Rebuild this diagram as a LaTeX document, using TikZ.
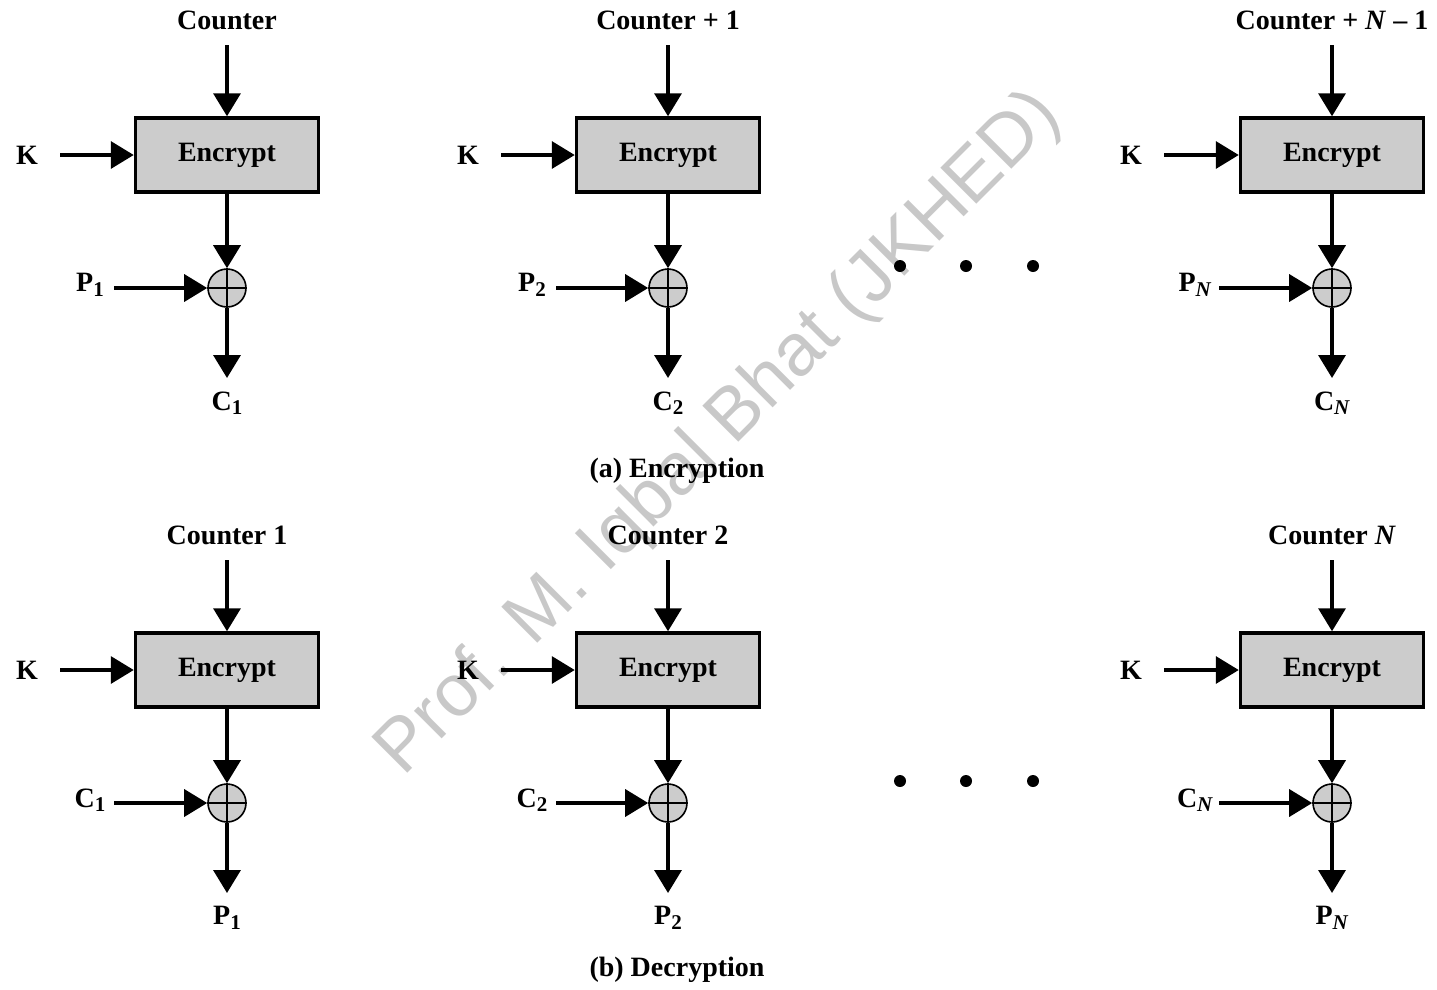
\documentclass[tikz,border=0pt]{standalone}
\usepackage{fontspec}
\setmainfont{Liberation Serif}
\newfontfamily\wmfont{Liberation Sans}
\usetikzlibrary{arrows.meta}
\definecolor{boxgray}{RGB}{204,204,204}
\definecolor{wmgray}{RGB}{200,200,200}
\newcommand\lsub[1]{\raisebox{-0.35ex}{\fontsize{21}{21}\selectfont #1}}
\tikzset{
  lbl/.style={font=\fontsize{28}{30}\selectfont\bfseries, inner sep=0pt},
  enc/.style={draw, line width=3.5pt, fill=boxgray, minimum width=183pt, minimum height=74pt,
              font=\fontsize{28}{30}\selectfont\bfseries, inner sep=0pt},
  xor/.style={circle, draw, line width=1.6pt, fill=boxgray, minimum size=38pt, inner sep=0pt},
  arr/.style={line width=3.5pt, -{Triangle[length=23pt,width=27pt]}},
  thinl/.style={line width=1.2pt},
  dotn/.style={circle, fill=black, minimum size=12pt, inner sep=0pt},
}
% #1 name, #2 X, #3 Y0, #4 K label x, #5 in label x, #6 top text, #7 in text, #8 out text
\newcommand\ctrstage[8]{%
  \node[lbl] (#1top) at (#2,#3+20) {#6};
  \coordinate (#1ts) at (#2,#3+45);
  \node[enc] (#1e) at (#2,#3+155) {\raisebox{3pt}{Encrypt}};
  \node[lbl] (#1k) at (#4,#3+155) {K};
  \coordinate (#1ks) at (#4+33,#3+155);
  \node[xor] (#1x) at (#2,#3+288) {};
  \draw[thinl] (#1x.north) -- (#1x.south) (#1x.west) -- (#1x.east);
  \node[lbl] (#1in) at (#5,#3+285) {#7};
  \coordinate (#1is) at (#5+24,#3+288);
  \coordinate (#1oe) at (#2,#3+378);
  \node[lbl] (#1out) at (#2,#3+403) {#8};
  \draw[arr] (#1ts) -- (#1e.north);
  \draw[arr] (#1ks) -- (#1e.west);
  \draw[arr] (#1e.south) -- (#1x.north);
  \draw[arr] (#1is) -- (#1x.west);
  \draw[arr] (#1x.south) -- (#1oe);
}
\begin{document}
\begin{tikzpicture}[x=1pt,y=-1pt]
\useasboundingbox (0,0) rectangle (1437,989);
\node[rotate=45, text=wmgray, font=\wmfont\fontsize{74}{78}\selectfont, inner sep=0pt] (wm) at (720,434) {Prof. M. Iqbal Bhat (JKHED)};
% encryption
\ctrstage{ea}{227}{0}{27}{90}{Counter}{P\lsub{1}}{C\lsub{1}}
\ctrstage{eb}{668}{0}{468}{532}{Counter + 1}{P\lsub{2}}{C\lsub{2}}
\ctrstage{ec}{1332}{0}{1131}{1195}{Counter + \textit{N} – 1}{P\lsub{\textit{N}}}{C\lsub{\textit{N}}}
\node[dotn] (d1) at (900,266) {};
\node[dotn] (d2) at (966,266) {};
\node[dotn] (d3) at (1033,266) {};
\node[lbl] (capa) at (677,471) {(a) Encryption};
% decryption
\ctrstage{da}{227}{515}{27}{90}{Counter 1}{C\lsub{1}}{P\lsub{1}}
\ctrstage{db}{668}{515}{468}{532}{Counter 2}{C\lsub{2}}{P\lsub{2}}
\ctrstage{dc}{1332}{515}{1131}{1195}{Counter \textit{N}}{C\lsub{\textit{N}}}{P\lsub{\textit{N}}}
\node[dotn] (d4) at (900,781) {};
\node[dotn] (d5) at (966,781) {};
\node[dotn] (d6) at (1033,781) {};
\node[lbl] (capb) at (677,970) {(b) Decryption};
\end{tikzpicture}
\end{document}
